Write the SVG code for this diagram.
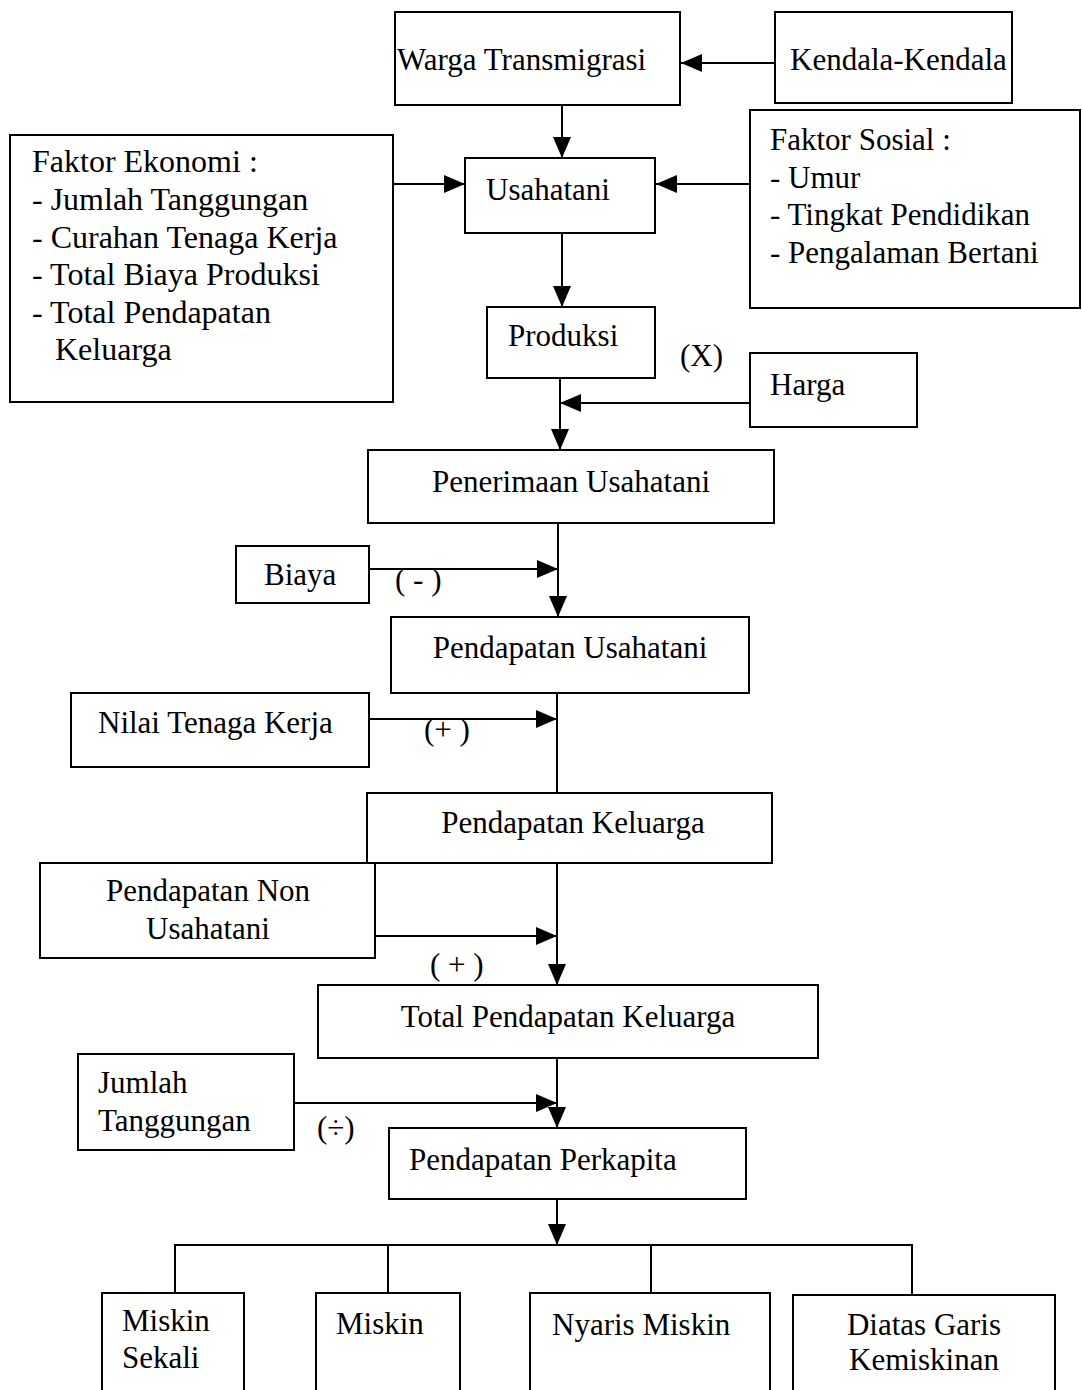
<svg xmlns="http://www.w3.org/2000/svg" width="1082" height="1390" viewBox="0 0 1082 1390">
<defs>
<marker id="ah" markerUnits="userSpaceOnUse" markerWidth="24" markerHeight="20" refX="21" refY="9" orient="auto">
<path d="M0,0 L21,9 L0,18 z" fill="#000"/>
</marker>
<style>
.box{fill:#fff;stroke:#000;stroke-width:2}
.t{font-family:"Liberation Serif","Times New Roman",serif;font-size:31px;fill:#000}
.b{font-size:32px}
.m{text-anchor:middle}
.ln{fill:none;stroke:#000;stroke-width:2}
.ar{fill:none;stroke:#000;stroke-width:2;marker-end:url(#ah)}
</style>
</defs>
<rect width="1082" height="1390" fill="#fff"/>
<g id="connectors">
<line class="ar" x1="775" y1="63" x2="681" y2="63"/>
<line class="ar" x1="562" y1="105" x2="562" y2="158"/>
<line class="ar" x1="393" y1="184" x2="465" y2="184"/>
<line class="ar" x1="750" y1="184" x2="656" y2="184"/>
<line class="ar" x1="562" y1="233" x2="562" y2="307"/>
<line class="ar" x1="560" y1="378" x2="560" y2="450"/>
<line class="ar" x1="750" y1="403" x2="560" y2="403"/>
<line class="ar" x1="558" y1="523" x2="558" y2="617"/>
<line class="ar" x1="369" y1="569" x2="558" y2="569"/>
<line class="ln" x1="557" y1="693" x2="557" y2="793"/>
<line class="ar" x1="369" y1="719" x2="557" y2="719"/>
<line class="ar" x1="557" y1="863" x2="557" y2="985"/>
<line class="ar" x1="375" y1="936" x2="557" y2="936"/>
<line class="ar" x1="557" y1="1058" x2="557" y2="1128"/>
<line class="ar" x1="294" y1="1103" x2="557" y2="1103"/>
<line class="ar" x1="557" y1="1199" x2="557" y2="1245"/>
<polyline class="ln" points="175,1293 175,1245 912,1245 912,1295"/>
<line class="ln" x1="388" y1="1245" x2="388" y2="1293"/>
<line class="ln" x1="651" y1="1245" x2="651" y2="1293"/>
<text class="t" x="680" y="366">(X)</text>
<text class="t" x="395" y="590">( - )</text>
<text class="t" x="424" y="740">(+ )</text>
<text class="t" x="430" y="975">( + )</text>
<text class="t" x="317" y="1138">(÷)</text>
</g>
<g id="warga"><rect class="box" x="395" y="12" width="285" height="93"/><text class="t" x="397" y="70">Warga Transmigrasi</text></g>
<g id="kendala"><rect class="box" x="775" y="12" width="237" height="91"/><text class="t" x="790" y="70">Kendala-Kendala</text></g>
<g id="ekonomi"><rect class="box" x="10" y="135" width="383" height="267"/>
<text class="t b" x="32" y="172">Faktor Ekonomi :</text>
<text class="t b" x="32" y="210">- Jumlah Tanggungan</text>
<text class="t b" x="32" y="248">- Curahan Tenaga Kerja</text>
<text class="t b" x="32" y="285">- Total Biaya Produksi</text>
<text class="t b" x="32" y="323">- Total Pendapatan</text>
<text class="t b" x="55" y="360">Keluarga</text></g>
<g id="usahatani"><rect class="box" x="465" y="158" width="190" height="75"/><text class="t" x="486" y="200">Usahatani</text></g>
<g id="sosial"><rect class="box" x="750" y="110" width="330" height="198"/>
<text class="t" x="770" y="150">Faktor Sosial  :</text>
<text class="t" x="770" y="188">- Umur</text>
<text class="t" x="770" y="225">- Tingkat Pendidikan</text>
<text class="t" x="770" y="263">- Pengalaman Bertani</text></g>
<g id="produksi"><rect class="box" x="487" y="307" width="168" height="71"/><text class="t" x="508" y="346">Produksi</text></g>
<g id="harga"><rect class="box" x="750" y="353" width="167" height="74"/><text class="t" x="770" y="395">Harga</text></g>
<g id="penerimaan"><rect class="box" x="368" y="450" width="406" height="73"/><text class="t m" x="571" y="492">Penerimaan Usahatani</text></g>
<g id="biaya"><rect class="box" x="236" y="546" width="133" height="57"/><text class="t" x="264" y="585">Biaya</text></g>
<g id="pendapatan-usahatani"><rect class="box" x="391" y="617" width="358" height="76"/><text class="t m" x="570" y="658">Pendapatan Usahatani</text></g>
<g id="nilai-tenaga-kerja"><rect class="box" x="71" y="693" width="298" height="74"/><text class="t" x="98" y="733">Nilai Tenaga Kerja</text></g>
<g id="pendapatan-keluarga"><rect class="box" x="367" y="793" width="405" height="70"/><text class="t m" x="573" y="833">Pendapatan Keluarga</text></g>
<g id="non-usahatani"><rect class="box" x="40" y="863" width="335" height="95"/><text class="t m" x="208" y="901">Pendapatan Non</text><text class="t m" x="208" y="939">Usahatani</text></g>
<g id="total"><rect class="box" x="318" y="985" width="500" height="73"/><text class="t m" x="568" y="1027">Total Pendapatan Keluarga</text></g>
<g id="jumlah"><rect class="box" x="78" y="1054" width="216" height="96"/><text class="t" x="98" y="1093">Jumlah</text><text class="t" x="98" y="1131">Tanggungan</text></g>
<g id="perkapita"><rect class="box" x="389" y="1128" width="357" height="71"/><text class="t" x="409" y="1170">Pendapatan Perkapita</text></g>
<g id="miskin-sekali"><rect class="box" x="102" y="1293" width="142" height="100"/><text class="t" x="122" y="1331">Miskin</text><text class="t" x="122" y="1368">Sekali</text></g>
<g id="miskin"><rect class="box" x="316" y="1293" width="144" height="100"/><text class="t" x="336" y="1334">Miskin</text></g>
<g id="nyaris"><rect class="box" x="530" y="1293" width="240" height="100"/><text class="t" x="552" y="1335">Nyaris Miskin</text></g>
<g id="diatas"><rect class="box" x="793" y="1295" width="262" height="98"/><text class="t m" x="924" y="1335">Diatas Garis</text><text class="t m" x="924" y="1370">Kemiskinan</text></g>
</svg>
